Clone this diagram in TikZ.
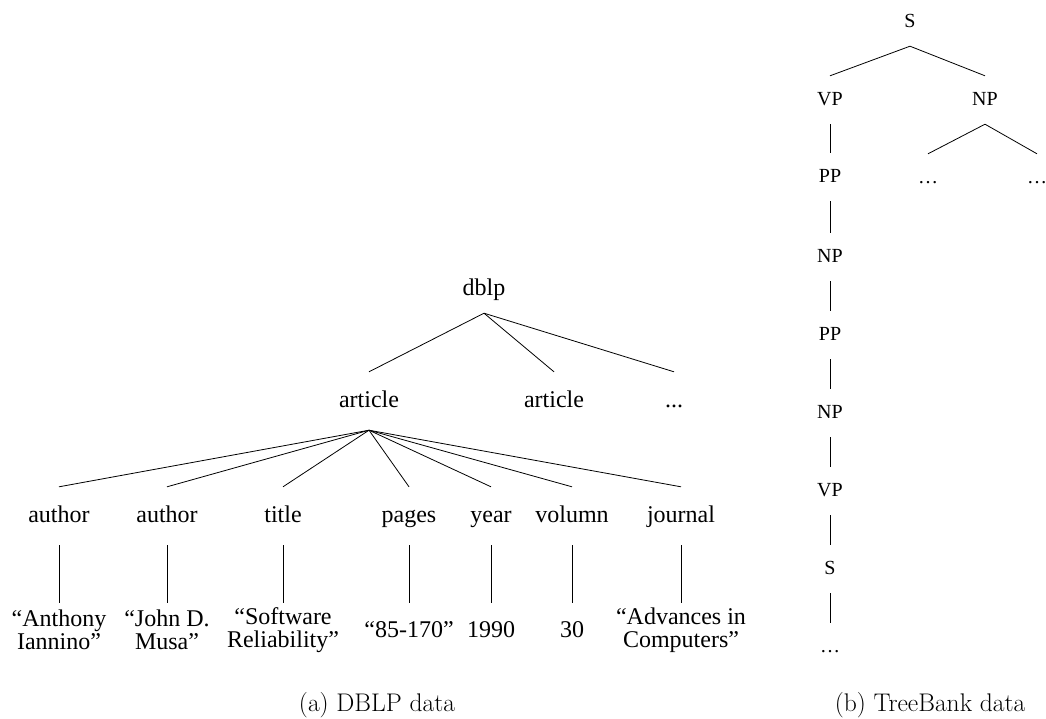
\documentclass[tikz,border=0pt]{standalone}
\usepackage{fontspec}
\newfontfamily\tmfont{Liberation Serif}
\begin{document}
\begin{tikzpicture}[x=1pt,y=-1pt,
  edge/.style={line width=0.8pt},
  dnode/.style={font=\tmfont\fontsize{24}{23}\selectfont, anchor=base,
    inner xsep=1pt, inner ysep=18pt, text height=17pt, text depth=5pt},
  leaf/.style={font=\tmfont\fontsize{24}{23.5}\selectfont, align=center,
    inner sep=0pt, minimum height=54pt},
  tnode/.style={font=\tmfont\fontsize{20}{22}\selectfont, anchor=base,
    inner xsep=1pt, inner ysep=15pt, text height=14pt, text depth=4pt},
  caption/.style={font=\fontsize{25.5}{28}\selectfont, anchor=base, inner sep=0pt}]
\useasboundingbox (0,0) rectangle (1046,718);

% ---- DBLP tree ----
\node[dnode, inner ysep=13pt] (dblp) at (484,295) {dblp};
\node[dnode] (art1) at (369,407) {article};
\node[dnode] (art2) at (554,407) {article};
\node[dnode] (more) at (674,407) {...};

\node[dnode] (au1) at (59,522)  {author};
\node[dnode] (au2) at (167,522) {author};
\node[dnode] (ti)  at (283,522) {title};
\node[dnode] (pg)  at (409,522) {pages};
\node[dnode] (yr)  at (491,522) {year};
\node[dnode] (vo)  at (572,522) {volumn};
\node[dnode] (jo)  at (681,522) {journal};

\node[leaf] (v1) at (59,630)  {“Anthony\\Iannino”};
\node[leaf] (v2) at (167,630) {“John D.\\Musa”};
\node[leaf] (v3) at (283,630) {“Software\\Reliability”};
\node[leaf] (v4) at (409,630) {“85-170”};
\node[leaf] (v5) at (491,630) {1990};
\node[leaf] (v6) at (572,630) {30};
\node[leaf] (v7) at (681,630) {“Advances in\\Computers”};

\foreach \c in {art1,art2,more}
  \draw[edge] (dblp.south) -- (\c.north);
\foreach \c in {au1,au2,ti,pg,yr,vo,jo}
  \draw[edge] (art1.south) -- (\c.north);
\foreach \p/\c in {au1/v1,au2/v2,ti/v3,pg/v4,yr/v5,vo/v6,jo/v7}
  \draw[edge] (\p.south) -- (\c.north);

% ---- TreeBank tree ----
\node[tnode] (s0)  at (910,27)  {S};
\node[tnode] (vp0) at (830,105) {VP};
\node[tnode] (np0) at (985,105) {NP};
\node[tnode] (d1)  at (928,183) {…};
\node[tnode] (d2)  at (1037,183) {…};
\node[tnode] (pp1) at (830,182) {PP};
\node[tnode] (np1) at (830,262) {NP};
\node[tnode] (pp2) at (830,340) {PP};
\node[tnode] (np2) at (830,418) {NP};
\node[tnode] (vp1) at (830,496) {VP};
\node[tnode] (s1)  at (830,574) {S};
\node[tnode] (d3)  at (830,652) {…};

\draw[edge] (s0.south) -- (vp0.north);
\draw[edge] (s0.south) -- (np0.north);
\draw[edge] (np0.south) -- (d1.north);
\draw[edge] (np0.south) -- (d2.north);
\foreach \p/\c in {vp0/pp1,pp1/np1,np1/pp2,pp2/np2,np2/vp1,vp1/s1,s1/d3}
  \draw[edge] (\p.south) -- (\c.north);

% ---- captions ----
\node[caption] (capa) at (377,711) {(a) DBLP data};
\node[caption] (capb) at (930,711) {(b) TreeBank data};
\end{tikzpicture}
\end{document}
